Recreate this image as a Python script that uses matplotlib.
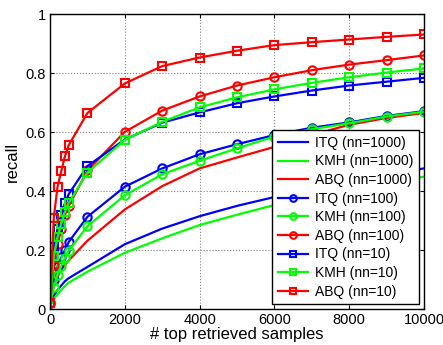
import numpy as np
import matplotlib
matplotlib.use('agg')
import matplotlib.pyplot as plt
from matplotlib.ticker import FormatStrFormatter

plt.rcParams['font.family'] = ['Liberation Sans', 'DejaVu Sans']

n_top = [0, 100, 200, 300, 400, 500, 1000, 2000, 3000, 4000, 5000,
         6000, 7000, 8000, 9000, 10000]

# recall per method / nn setting
itq_1000 = [0.01, 0.045, 0.065, 0.08, 0.095, 0.105, 0.143, 0.22, 0.273, 0.315,
            0.35, 0.38, 0.41, 0.435, 0.457, 0.477]
kmh_1000 = [0.01, 0.035, 0.05, 0.065, 0.078, 0.09, 0.127, 0.191, 0.24, 0.285,
            0.32, 0.353, 0.385, 0.41, 0.43, 0.449]
abq_1000 = [0.01, 0.08, 0.11, 0.135, 0.15, 0.165, 0.232, 0.338, 0.417, 0.477,
            0.514, 0.55, 0.59, 0.625, 0.648, 0.665]
itq_100 = [0.02, 0.10, 0.145, 0.175, 0.20, 0.228, 0.313, 0.415, 0.477, 0.525,
           0.559, 0.59, 0.615, 0.633, 0.655, 0.671]
kmh_100 = [0.02, 0.075, 0.115, 0.146, 0.172, 0.198, 0.281, 0.386, 0.457, 0.503,
           0.545, 0.585, 0.61, 0.63, 0.653, 0.669]
abq_100 = [0.02, 0.15, 0.22, 0.27, 0.32, 0.35, 0.47, 0.601, 0.673, 0.721,
           0.758, 0.786, 0.81, 0.829, 0.844, 0.86]
itq_10 = [0.02, 0.21, 0.27, 0.32, 0.36, 0.39, 0.485, 0.575, 0.632, 0.667,
          0.698, 0.721, 0.741, 0.758, 0.771, 0.784]
kmh_10 = [0.02, 0.18, 0.245, 0.29, 0.33, 0.36, 0.463, 0.574, 0.635, 0.684,
          0.718, 0.745, 0.767, 0.786, 0.802, 0.816]
abq_10 = [0.02, 0.31, 0.415, 0.468, 0.519, 0.556, 0.665, 0.765, 0.824, 0.853,
          0.876, 0.895, 0.905, 0.914, 0.923, 0.931]

series = [
    ('ITQ (nn=1000)', itq_1000, 'b', ''),
    ('KMH (nn=1000)', kmh_1000, 'lime', ''),
    ('ABQ (nn=1000)', abq_1000, 'r', ''),
    ('ITQ (nn=100)', itq_100, 'b', 'o'),
    ('KMH (nn=100)', kmh_100, 'lime', 'o'),
    ('ABQ (nn=100)', abq_100, 'r', 'o'),
    ('ITQ (nn=10)', itq_10, 'b', 's'),
    ('KMH (nn=10)', kmh_10, 'lime', 's'),
    ('ABQ (nn=10)', abq_10, 'r', 's'),
]

fig = plt.figure(figsize=(4.43, 3.45), dpi=100)
ax = fig.add_axes([0.113, 0.104, 0.844, 0.855])

for label, vals, col, mk in series:
    ax.plot(n_top, vals, color=col, marker=mk if mk else None, markersize=6,
            markerfacecolor='none', markeredgecolor=col, markeredgewidth=1.5,
            linewidth=1.6, label=label)

ax.set_xlim(0, 10000)
ax.set_ylim(0, 1)
ax.set_xticks(np.arange(0, 10001, 2000))
ax.set_yticks(np.arange(0, 1.01, 0.2))
ax.yaxis.set_major_formatter(FormatStrFormatter('%g'))
ax.tick_params(direction='in', top=True, right=True, labelsize=10.5, length=3, pad=3)
ax.grid(True, linestyle=':', color='0.5', linewidth=0.8)
for s in ax.spines.values():
    s.set_linewidth(1.0)

ax.set_xlabel('# top retrieved samples', fontsize=12, labelpad=0)
ax.set_ylabel('recall', fontsize=12, labelpad=4)

leg = ax.legend(loc='lower right', bbox_to_anchor=(0.987, 0.017), borderaxespad=0,
                fontsize=10, labelspacing=0.33, handlelength=2.2, handletextpad=0.5,
                borderpad=0.4, fancybox=False, framealpha=1, edgecolor='k',
                markerscale=0.8)
leg.get_frame().set_linewidth(1.0)

fig.savefig('out.png', dpi=100)
